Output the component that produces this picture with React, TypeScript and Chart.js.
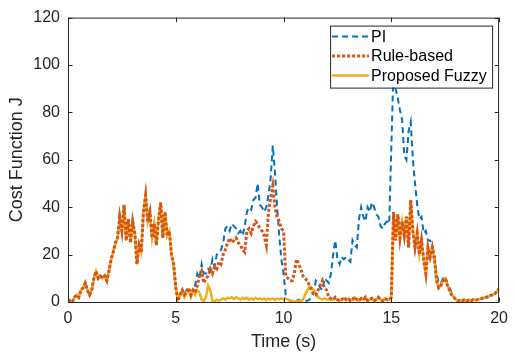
import React, { useEffect, useRef } from "react";
import { Chart, registerables } from "chart.js";

Chart.register(...registerables);

// Sampling step of the time series (s)
const STEP = 0.1;

// Cost function J, sampled every 0.1 s from 0 to 20 s
const piValues = [
  1, 0.5, 0, 2, 3, 2, 5, 6, 8, 5,
  3, 5, 10, 13, 10, 11, 10, 11, 9, 13,
  18, 21, 25, 27, 36, 30, 41, 26, 35, 25,
  34, 29, 16, 24, 21, 38, 45, 34, 38, 27,
  33, 24, 35, 42, 27, 38, 28, 30, 20, 16,
  6, 1, 3, 4, 3, 5, 4, 3, 5, 7,
  12, 10, 16, 12, 12, 14, 13, 18, 15, 20,
  21, 22, 25, 31, 32, 30, 33, 32, 31, 29,
  30, 28, 32, 38, 40, 39, 43, 44, 50, 41,
  40, 38, 40, 45, 52, 66, 55, 40, 28, 18,
  12, 3, 1, 0.5, 0.5, 0.3, 0.5, 1, 0.5, 1,
  0.5, 0.5, 1, 2, 4, 9, 8, 6, 5, 10,
  9, 8, 12, 20, 26, 18, 16, 19, 18, 19,
  18, 17, 26, 24, 23, 35, 40, 36, 34, 40,
  38, 42, 40, 37, 36, 32, 31, 33, 34, 33,
  65, 98, 90, 86, 81, 77, 62, 60, 72, 76,
  60, 50, 41, 35, 36, 29, 30, 26, 26, 24,
  20, 12, 8, 8, 10, 11, 8, 6, 4, 2,
  1, 0.5, 0.8, 0.5, 1, 0.5, 0.8, 0.5, 1, 0.8,
  1, 1.2, 1.5, 1.8, 2, 2.2, 2.8, 3, 3.5, 4.5,
  5.5,
];

const ruleValues = [
  1, 0.5, 0, 2, 3, 2, 5, 6, 8, 5,
  3, 5, 10, 13, 10, 11, 10, 11, 9, 13,
  18, 21, 25, 27, 36, 30, 41, 26, 35, 25,
  34, 29, 16, 24, 21, 38, 45, 34, 38, 27,
  33, 24, 35, 42, 27, 38, 28, 30, 20, 16,
  6, 0.5, 3, 5, 3, 4, 6, 3, 5, 4,
  7, 11, 13, 8, 10, 11, 14, 12, 15, 14,
  17, 16, 20, 22, 25, 27, 25, 26, 27, 25,
  24, 22, 21, 30, 31, 29, 32, 34, 33, 31,
  30, 28, 24, 38, 44, 49, 40, 36, 34, 31,
  30, 11, 10, 9, 9, 12, 18, 16, 14, 11,
  10, 9, 7, 5, 3, 3, 5, 7, 9, 6,
  5, 2, 1.5, 1, 2, 1, 0.5, 1, 2, 1,
  1.5, 0.5, 1, 2, 1, 0.5, 1.5, 1, 2, 0.5,
  1, 1.5, 0.5, 1, 2, 1, 0.5, 1.5, 1, 1,
  2, 38, 26, 37, 27, 34, 28, 36, 23, 43,
  30, 23, 29, 20, 26, 18, 12, 23, 19, 23,
  18, 9, 6, 7, 9, 10, 7, 5, 3, 2,
  1, 0.5, 0.8, 0.5, 1, 0.5, 0.8, 0.5, 1, 0.8,
  1, 1.2, 1.5, 1.8, 2, 2.2, 2.8, 3, 3.5, 4.5,
  5.5,
];

const fuzzyValues = [
  1, 0.5, 0, 2, 3, 2, 5, 6, 8, 5,
  3, 5, 10, 13, 10, 11, 10, 11, 9, 13,
  18, 21, 25, 27, 36, 30, 41, 26, 35, 25,
  34, 29, 16, 24, 21, 38, 45, 34, 38, 27,
  33, 24, 35, 42, 27, 38, 28, 30, 20, 16,
  6, 1, 3, 5, 2, 4, 5, 2, 5, 3,
  5, 4, 1, 0.5, 2, 7, 5, 0.5, 0.3, 1,
  0.5, 1, 1.5, 1, 1.8, 1.5, 2, 1.2, 2, 1.5,
  1, 1.8, 1.2, 1.8, 1, 1.5, 1, 1.8, 1.2, 1.5,
  1, 1.5, 0.8, 1.5, 1, 1.5, 0.8, 1.5, 1, 1.6,
  1, 1.4, 1, 0.5, 0.3, 0.2, 0.3, 0.5, 0.2, 1,
  3, 5, 6.5, 6, 5, 3.5, 2, 1.5, 1, 1.5,
  1, 1.2, 1, 1, 1.5, 1, 0.5, 1, 1.5, 1,
  1.5, 0.5, 1, 2, 1, 0.5, 1.5, 1, 2, 0.5,
  1, 1.5, 0.5, 1, 2, 1, 0.5, 1.5, 1, 1,
  2, 38, 26, 37, 27, 34, 28, 36, 23, 43,
  30, 23, 29, 20, 26, 18, 12, 23, 19, 23,
  18, 9, 6, 7, 9, 10, 7, 5, 3, 2,
  1, 0.5, 0.8, 0.5, 1, 0.5, 0.8, 0.5, 1, 0.8,
  1, 1.2, 1.5, 1.8, 2, 2.2, 2.8, 3, 3.5, 4.5,
  6,
];

const xTicks = [0, 5, 10, 15, 20];
const yTicks = [0, 20, 40, 60, 80, 100, 120];
const seriesLabels = ["PI", "Rule-based", "Proposed Fuzzy"];
const xTitle = "Time (s)";
const yTitle = "Cost Function J";

const FONT = "'Liberation Sans', Arial, sans-serif";
const AXIS_COLOR = "#262626";
const COLORS = { pi: "#0072BD", rule: "#D95319", fuzzy: "#EDB120" };
const STYLES = [
  { color: COLORS.pi, width: 2, dash: [6, 4] },
  { color: COLORS.rule, width: 3, dash: [3, 2] },
  { color: COLORS.fuzzy, width: 2.5, dash: [] as number[] },
];

const toPoints = (vals: number[]) =>
  vals.map((v, i) => ({ x: Math.round(i * STEP * 10) / 10, y: v }));

const boxPlugin = {
  id: "matlabBox",
  afterDatasetsDraw(chart: any) {
    const { ctx, chartArea: a, scales } = chart;
    ctx.save();
    ctx.strokeStyle = AXIS_COLOR;
    ctx.lineWidth = 1;
    ctx.strokeRect(a.left + 0.5, a.top + 0.5, a.right - a.left - 1, a.bottom - a.top);
    const tl = 4.5;
    ctx.beginPath();
    xTicks.forEach((t) => {
      const px = Math.round(scales.x.getPixelForValue(t)) + 0.5;
      ctx.moveTo(px, a.bottom);
      ctx.lineTo(px, a.bottom - tl);
      ctx.moveTo(px, a.top);
      ctx.lineTo(px, a.top + tl);
    });
    yTicks.forEach((t) => {
      const py = Math.round(scales.y.getPixelForValue(t)) + 0.5;
      ctx.moveTo(a.left, py);
      ctx.lineTo(a.left + tl, py);
      ctx.moveTo(a.right, py);
      ctx.lineTo(a.right - tl, py);
    });
    ctx.stroke();
    ctx.restore();
  },
  afterDraw(chart: any) {
    const { ctx, chartArea: a } = chart;
    const lw = 162;
    const lh = 62;
    const lx = a.right - 7 - lw;
    const ly = a.top + 8;
    ctx.save();
    ctx.fillStyle = "#ffffff";
    ctx.fillRect(lx, ly, lw, lh);
    ctx.strokeStyle = AXIS_COLOR;
    ctx.lineWidth = 1;
    ctx.strokeRect(lx + 0.5, ly + 0.5, lw, lh);
    ctx.font = `16px ${FONT}`;
    ctx.textBaseline = "middle";
    ctx.textAlign = "left";
    seriesLabels.forEach((label, i) => {
      const st = STYLES[i];
      const y = ly + 11 + i * 19.5;
      ctx.beginPath();
      ctx.strokeStyle = st.color;
      ctx.lineWidth = st.width;
      ctx.setLineDash(st.dash);
      ctx.moveTo(lx + 2, y);
      ctx.lineTo(lx + 39, y);
      ctx.stroke();
      ctx.setLineDash([]);
      ctx.fillStyle = "#000000";
      ctx.fillText(label, lx + 41, y + 0.5);
    });
    ctx.restore();
  },
};

export default function App() {
  const canvasRef = useRef<HTMLCanvasElement | null>(null);

  useEffect(() => {
    const canvas = canvasRef.current;
    if (!canvas) return;
    const seriesData = [piValues, ruleValues, fuzzyValues];
    const order = [2, 0, 1];
    const chart = new Chart(canvas, {
      type: "line",
      data: {
        datasets: seriesLabels.map((label, i) => ({
          label,
          data: toPoints(seriesData[i]),
          borderColor: STYLES[i].color,
          backgroundColor: STYLES[i].color,
          borderWidth: STYLES[i].width,
          borderDash: STYLES[i].dash,
          borderCapStyle: "butt",
          borderJoinStyle: "miter",
          pointRadius: 0,
          tension: 0,
          fill: false,
          order: order[i],
        })),
      },
      options: {
        animation: false,
        responsive: false,
        maintainAspectRatio: false,
        layout: { padding: { left: 0, top: 16, right: 12, bottom: 0 } },
        plugins: {
          legend: { display: false },
          tooltip: { enabled: false },
        },
        scales: {
          x: {
            type: "linear",
            min: 0,
            max: 20,
            grid: { display: false, drawTicks: false },
            border: { display: false },
            afterFit: (s: any) => {
              s.height = 51;
            },
            afterBuildTicks: (s: any) => {
              s.ticks = xTicks.map((v) => ({ value: v }));
            },
            ticks: {
              padding: 7,
              color: AXIS_COLOR,
              font: { family: FONT, size: 16 },
              maxRotation: 0,
            },
            title: {
              display: true,
              text: xTitle,
              color: AXIS_COLOR,
              font: { family: FONT, size: 18 },
              padding: { top: 0, bottom: 0 },
            },
          },
          y: {
            type: "linear",
            min: 0,
            max: 120,
            grid: { display: false, drawTicks: false },
            border: { display: false },
            afterFit: (s: any) => {
              s.width = 68;
            },
            afterBuildTicks: (s: any) => {
              s.ticks = yTicks.map((v) => ({ value: v }));
            },
            ticks: {
              padding: 8,
              color: AXIS_COLOR,
              font: { family: FONT, size: 16 },
            },
            title: {
              display: true,
              text: yTitle,
              color: AXIS_COLOR,
              font: { family: FONT, size: 18 },
              padding: { top: 6, bottom: 0 },
            },
          },
        },
      },
      plugins: [boxPlugin],
    } as any);
    return () => chart.destroy();
  }, []);

  return (
    <div style={{ position: "absolute", left: 0, top: 0, width: 515, height: 353, background: "#fff" }}>
      <canvas ref={canvasRef} width={515} height={353} style={{ width: 515, height: 353 }} />
    </div>
  );
}
